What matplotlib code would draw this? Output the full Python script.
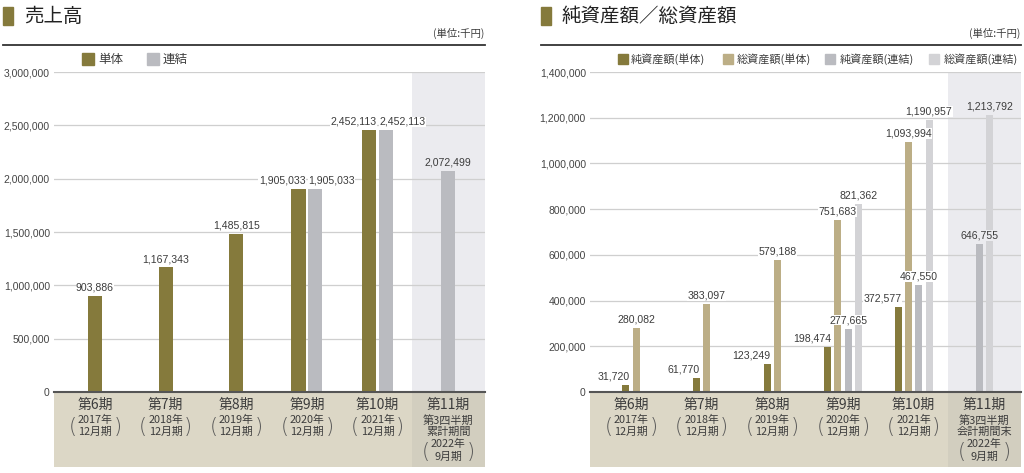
import matplotlib.pyplot as plt
from matplotlib.patches import Rectangle
from matplotlib.lines import Line2D
from matplotlib.transforms import blended_transform_factory

# --- data ---
periods = ["第6期", "第7期", "第8期", "第9期", "第10期", "第11期"]
years = ["2017年", "2018年", "2019年", "2020年", "2021年", "2022年"]
months = ["12月期", "12月期", "12月期", "12月期", "12月期", "9月期"]
q3_left = ["第3四半期", "累計期間"]
q3_right = ["第3四半期", "会計期間末"]

sales_single = [903886, 1167343, 1485815, 1905033, 2452113, None]
sales_consol = [None, None, None, 1905033, 2452113, 2072499]
sales_names = ["単体", "連結"]
sales_ticks = [0, 500000, 1000000, 1500000, 2000000, 2500000, 3000000]

net_single = [31720, 61770, 123249, 198474, 372577, None]
total_single = [280082, 383097, 579188, 751683, 1093994, None]
net_consol = [None, None, None, 277665, 467550, 646755]
total_consol = [None, None, None, 821362, 1190957, 1213792]
asset_names = ["純資産額(単体)", "総資産額(単体)", "純資産額(連結)", "総資産額(連結)"]
asset_ticks = [0, 200000, 400000, 600000, 800000, 1000000, 1200000, 1400000]

OLIVE = "#857a3c"
TAN = "#bcae86"
GRAY = "#babbc0"
LGRAY = "#d3d3d6"
BAND = "#dcd7c6"
BAND11 = "#d2cebf"
COL11 = "#ebebef"
TXT = "#3c3c3c"

JP = ["Noto Sans CJK JP", "DejaVu Sans"]
NUM = ["Liberation Sans Narrow", "Liberation Sans", "DejaVu Sans"]

W, H = 1024, 473


def fx(px):
    return px / W


def fy(py):
    return 1 - py / H


fig = plt.figure(figsize=(W / 100, H / 100), dpi=100)


def header(x0, x1, title, legend_items, sq, fs):
    fig.add_artist(Rectangle((fx(x0), fy(25)), 10 / W, 18 / H,
                             transform=fig.transFigure, color=OLIVE))
    fig.text(fx(x0 + 21), fy(16), title, family=JP, fontsize=14,
             color="#222", va="center")
    fig.add_artist(Line2D([fx(x0), fx(x1)], [fy(45), fy(45)],
                          transform=fig.transFigure, color="#333", lw=1.3))
    fig.text(fx(x1 - 1), fy(33), "(単位:千円)", family=JP, fontsize=7.5,
             color=TXT, ha="right", va="center")
    for (xs, xt, name, c) in legend_items:
        fig.add_artist(Rectangle((fx(xs), fy(59 + sq / 2)), sq / W, sq / H,
                                 transform=fig.transFigure, color=c))
        fig.text(fx(xt), fy(59), name, family=JP, fontsize=fs, color=TXT,
                 va="center")


def panel(ax, series, colors, width, step, ticks, mode, q3):
    ax.set_xlim(-0.58, 5.52)
    ax.set_ylim(0, ticks[-1])
    ax.axvspan(4.48, 5.52, color=COL11, zorder=0, lw=0)
    for i in range(len(periods)):
        present = [k for k, s in enumerate(series) if s[i] is not None]
        m = len(present)
        bg = COL11 if i == 5 else "white"
        for j, k in enumerate(present):
            x = i + (j - (m - 1) / 2) * step
            v = series[k][i]
            ax.bar(x, v, width, color=colors[k], zorder=2)
            ha, lx = "center", x
            if mode == "pair" and m == 2:
                ha, lx = ("right", x + width / 2) if j == 0 else ("left", x - width / 2)
            if mode == "quad" and k == 0 and m > 1:
                ha, lx = "right", x + width / 2
            ax.annotate(f"{v:,}", (lx, v), xytext=(0, 2.5), textcoords="offset points",
                        ha=ha, va="bottom", family=NUM, fontsize=7.6, color=TXT,
                        zorder=4,
                        bbox=dict(facecolor=bg, edgecolor="none", pad=0.3))
    ax.set_yticks(ticks)
    ax.set_yticklabels([f"{t:,}" for t in ticks], family=NUM)
    ax.tick_params(axis="y", length=0, labelsize=7.5, colors="#444", pad=3)
    ax.set_xticks([])
    ax.yaxis.grid(True, color="#cfcfcf", lw=0.9)
    ax.set_axisbelow(True)
    for s in ("top", "right", "left"):
        ax.spines[s].set_visible(False)
    ax.spines["bottom"].set_color("#555")
    ax.spines["bottom"].set_linewidth(1.5)
    ax.spines["bottom"].set_zorder(5)

    tb = blended_transform_factory(ax.transData, ax.transAxes)
    bh = 75 / 320
    ax.add_patch(Rectangle((-0.58, -bh), 6.1, bh, transform=tb, color=BAND,
                           clip_on=False, zorder=1, lw=0))
    ax.add_patch(Rectangle((4.48, -bh), 1.04, bh, transform=tb, color=BAND11,
                           clip_on=False, zorder=1, lw=0))
    tf = blended_transform_factory(ax.transData, fig.transFigure)
    for i, p in enumerate(periods):
        ax.text(i, fy(405), p, transform=tf, family=JP, fontsize=10, color=TXT,
                ha="center", va="center")
        if i < 5:
            ys = (420, 432)
        else:
            ax.text(i, fy(420), q3[0], transform=tf, family=JP, fontsize=8,
                    color=TXT, ha="center", va="center")
            ax.text(i, fy(432), q3[1], transform=tf, family=JP, fontsize=8,
                    color=TXT, ha="center", va="center")
            ys = (444, 457)
        ax.text(i, fy(ys[0]), years[i], transform=tf, family=JP, fontsize=7.8,
                color=TXT, ha="center", va="center")
        ax.text(i, fy(ys[1]), months[i], transform=tf, family=JP, fontsize=7.8,
                color=TXT, ha="center", va="center")
        ym = fy((ys[0] + ys[1]) / 2 + 1)
        ax.text(i - 0.32, ym, "(", transform=tf, family="DejaVu Sans",
                fontsize=15, color="#555", ha="center", va="center",
                fontweight="light")
        ax.text(i + 0.32, ym, ")", transform=tf, family="DejaVu Sans",
                fontsize=15, color="#555", ha="center", va="center",
                fontweight="light")


ax1 = fig.add_axes([fx(54), fy(392), 431 / W, 320 / H])
panel(ax1, [sales_single, sales_consol], [OLIVE, GRAY], 0.2, 0.24,
      sales_ticks, "pair", q3_left)
header(3, 485, "売上高",
       [(82, 98, sales_names[0], OLIVE), (147, 163, sales_names[1], GRAY)], 12, 9)

ax2 = fig.add_axes([fx(590), fy(392), 431 / W, 320 / H])
panel(ax2, [net_single, total_single, net_consol, total_consol],
      [OLIVE, TAN, GRAY, LGRAY], 0.1, 0.146, asset_ticks, "quad", q3_right)
header(541, 1021, "純資産額／総資産額",
       [(618, 631, asset_names[0], OLIVE), (723, 737, asset_names[1], TAN),
        (825, 840, asset_names[2], GRAY), (929, 944, asset_names[3], LGRAY)], 10, 8)

fig.savefig("out.png", dpi=100)
